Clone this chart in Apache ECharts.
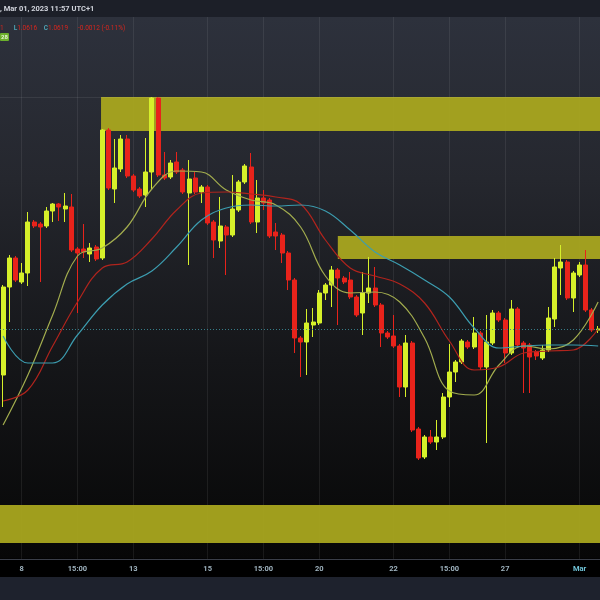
<!DOCTYPE html>
<html><head><meta charset="utf-8">
<script src="https://cdn.jsdelivr.net/npm/echarts/dist/echarts.min.js"></script>
<style>html,body{margin:0;padding:0;background:#000;}#c{width:600px;height:600px;}</style>
</head><body><div id="c"></div>
<script>
// candle values (price units)
const opens  = [225,313,342,318,327,378,376,374,389,396,391,393,351,351,346,353,342,470,411,431,461,424,411,405,428,502,425,423,438,430,407,422,408,413,378,359,373,365,390,418,433,378,402,400,368,365,347,320,262,258,275,277,307,315,330,322,320,303,287,307,312,295,267,264,254,213,257,171,143,163,158,163,203,228,238,258,253,267,233,257,287,280,247,291,257,255,248,242,250,281,332,338,302,325,335,290,270];
const closes = [313,342,320,327,378,374,373,389,396,393,394,350,347,348,352,341,470,412,432,461,424,410,404,428,502,425,422,437,428,408,421,408,413,377,360,374,365,391,418,434,378,402,397,364,364,347,320,262,258,277,278,307,315,330,322,318,303,285,307,312,295,267,263,254,213,257,170,142,163,158,163,203,228,238,259,253,267,233,258,287,280,247,291,255,252,243,244,250,282,333,338,302,327,335,290,270,271];
const lows   = [193,278,318,316,314,372,318,372,378,379,378,348,287,342,338,339,340,410,397,428,422,408,402,393,410,423,420,421,426,406,335,406,397,375,342,352,325,363,388,416,376,367,390,362,350,337,310,247,223,225,263,275,300,293,275,316,301,283,265,297,293,253,261,252,203,203,168,140,141,156,150,161,193,218,236,251,251,230,157,255,278,237,245,253,207,207,240,240,248,273,305,300,288,323,288,268,267];
const highs  = [315,345,344,337,388,380,378,393,397,397,407,406,353,376,357,355,471,472,461,465,465,426,413,462,503,503,448,440,448,432,440,428,415,415,380,403,375,425,420,436,447,420,410,402,377,367,349,322,264,291,292,310,317,334,332,324,328,305,328,343,333,297,269,285,256,265,259,173,165,170,180,207,256,240,261,260,283,269,285,290,289,282,300,293,259,257,250,255,293,342,355,340,329,338,350,292,274];

// moving average lines, read at every 4th candle
const maIdx  = [0,4,8,12,16,20,24,28,32,36,40,44,48,52,56,60,64,68,72,76,80,84,88,92,96];
const maFast = [175,225,285,344,352,373,411,429,428,410,400,395,373,324,307,308,298,262,209,205,235,254,251,260,298];
const maMid  = [199,210,254,298,332,338,361,390,407,408,406,403,396,360,332,324,316,297,259,230,233,247,249,250,271];
const maSlow = [264,237,237,265,295,316,329,353,380,392,395,394,395,389,370,348,335,320,303,272,252,254,255,255,254];

// time axis labels
const tickIdx    = [3,12,21,33,42,51,63,72,81,93];
const tickLabels = ['8','15:00','13','15','15:00','20','22','15:00','27','Mar'];

// supply / demand zones: [fromIdx, toIdx, low, high]
const zoneFrom = [15.8, 54, -0.5];
const zoneLow  = [469, 341, 57];
const zoneHigh = [503, 364, 95];
const lastPrice = 271;
const gridPrices = [503];

const X_MIN = -0.5, X_MAX = 96.3;
const candleRows = opens.map((o, i) => [i, o, closes[i], lows[i], highs[i]]);
const pair = (arr) => arr.map((v, i) => [maIdx[i], v]);

const chart = echarts.init(document.getElementById('c'), null, {renderer: 'canvas'});
chart.setOption({
  animation: false,
  backgroundColor: new echarts.graphic.LinearGradient(0, 0, 0, 1, [
    {offset: 0, color: '#1c1f28'}, {offset: 0.028, color: '#1c1f28'},
    {offset: 0.0285, color: '#2d313c'}, {offset: 0.3, color: '#25272e'},
    {offset: 0.6, color: '#151619'}, {offset: 0.93, color: '#070707'},
    {offset: 0.9317, color: '#000'}, {offset: 0.961, color: '#000'},
    {offset: 0.9617, color: '#1e222d'}, {offset: 1, color: '#1e222d'}
  ]),
  grid: {left: 0, right: 0, top: 17, bottom: 41},
  xAxis: {
    type: 'value', min: X_MIN, max: X_MAX,
    axisLine: {show: true, lineStyle: {color: '#3a3e48', width: 1}},
    axisTick: {show: false, customValues: tickIdx},
    axisLabel: {
      customValues: tickIdx, margin: 6, fontSize: 7.5, fontFamily: 'Roboto', fontWeight: 'bold', color: '#9fb3bf',
      formatter: (v) => { const k = tickIdx.indexOf(Math.round(v)); if (k < 0) return ''; return tickLabels[k] === 'Mar' ? '{m|Mar}' : tickLabels[k]; },
      rich: {m: {fontSize: 7.5, fontFamily: 'Roboto', fontWeight: 'bold', color: '#6fc2d6'}}
    },
    splitLine: {show: true, lineStyle: {color: 'rgba(255,255,255,0.075)', width: 1}}
  },
  yAxis: {type: 'value', min: 41, max: 583, show: false, splitLine: {show: false}},
  series: [
    {
      type: 'candlestick', data: candleRows, encode: {x: 0, y: [1, 2, 3, 4]}, barWidth: 4.5,
      itemStyle: {color: '#d6f02a', color0: '#e8231b', borderColor: '#d6f02a', borderColor0: '#e8231b', borderWidth: 1},
      markArea: {
        silent: true,
        itemStyle: {color: '#a9a71f', opacity: 0.95},
        data: zoneFrom.map((f, k) => [{xAxis: f, yAxis: zoneLow[k]}, {xAxis: X_MAX, yAxis: zoneHigh[k]}])
      },
      markLine: {
        silent: true, symbol: 'none', label: {show: false},
        data: [
          {yAxis: lastPrice, lineStyle: {color: '#3b8794', type: [1, 2], width: 1, opacity: 0.9}},
          ...gridPrices.map(p => ({yAxis: p, lineStyle: {color: 'rgba(255,255,255,0.08)', type: 'solid', width: 1}}))
        ]
      }
    },
    {type: 'line', data: pair(maFast), smooth: 0.4, symbol: 'none', lineStyle: {color: '#a2ac4e', width: 1.2}},
    {type: 'line', data: pair(maMid), smooth: 0.4, symbol: 'none', lineStyle: {color: '#b0241d', width: 1.2}},
    {type: 'line', data: pair(maSlow), smooth: 0.4, symbol: 'none', lineStyle: {color: '#3c9db0', width: 1.2}}
  ],
  graphic: [
    {type: 'text', left: 0, top: 5, z: 100, style: {text: ', Mar 01, 2023 11:57 UTC+1', fill: '#d1d4dc', font: 'bold 7.5px Roboto'}},
    {type: 'text', left: 0, top: 22, z: 100, style: {
      text: '{r|1}   {t|L}{r|1.0616}  {t|C}{r|1.0619}   {r|-0.0012 (-0.11%)}',
      rich: {r: {fill: '#d7261e', font: '6.5px Roboto'}, t: {fill: '#4fa3b3', font: 'bold 6.5px Roboto'}}
    }},
    {type: 'rect', left: 0, top: 33, z: 100, shape: {width: 9, height: 8, r: 1}, style: {fill: '#6bb02c'}},
    {type: 'text', left: 1, top: 34, z: 101, style: {text: '28', fill: '#e8f5d8', font: 'bold 6px Roboto'}}
  ]
});
</script>
</body></html>
